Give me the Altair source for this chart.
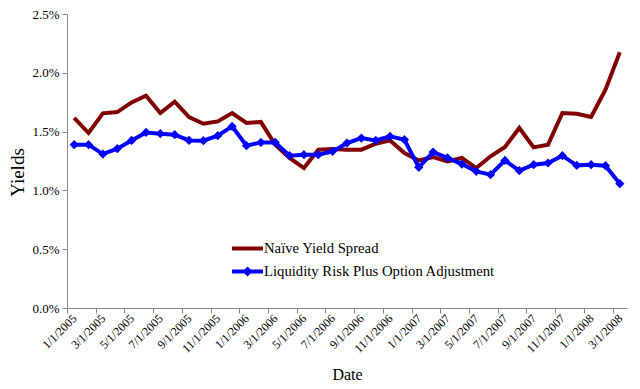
import altair as alt
import pandas as pd

dates = [
    "1/1/2005", "2/1/2005", "3/1/2005", "4/1/2005", "5/1/2005", "6/1/2005",
    "7/1/2005", "8/1/2005", "9/1/2005", "10/1/2005", "11/1/2005", "12/1/2005",
    "1/1/2006", "2/1/2006", "3/1/2006", "4/1/2006", "5/1/2006", "6/1/2006",
    "7/1/2006", "8/1/2006", "9/1/2006", "10/1/2006", "11/1/2006", "12/1/2006",
    "1/1/2007", "2/1/2007", "3/1/2007", "4/1/2007", "5/1/2007", "6/1/2007",
    "7/1/2007", "8/1/2007", "9/1/2007", "10/1/2007", "11/1/2007", "12/1/2007",
    "1/1/2008", "2/1/2008", "3/1/2008",
]

naive = [
    1.616, 1.488, 1.655, 1.666, 1.748, 1.805, 1.658, 1.754, 1.624, 1.567,
    1.587, 1.658, 1.573, 1.582, 1.389, 1.276, 1.190, 1.346, 1.352, 1.346,
    1.346, 1.397, 1.425, 1.318, 1.255, 1.284, 1.247, 1.276, 1.190, 1.290,
    1.369, 1.531, 1.366, 1.389, 1.658, 1.652, 1.624, 1.856, 2.174,
]

liquidity = [
    1.389, 1.389, 1.309, 1.355, 1.425, 1.493, 1.482, 1.474, 1.425, 1.423,
    1.465, 1.544, 1.380, 1.408, 1.408, 1.295, 1.304, 1.304, 1.332, 1.403,
    1.445, 1.425, 1.459, 1.431, 1.196, 1.326, 1.276, 1.224, 1.162, 1.134,
    1.255, 1.168, 1.219, 1.233, 1.295, 1.213, 1.219, 1.210, 1.057,
]

series_names = ["Naïve Yield Spread", "Liquidity Risk Plus Option Adjustment"]
series_colors = ["#800000", "#0000FF"]
y_ticks = [0.0, 0.5, 1.0, 1.5, 2.0, 2.5]

rows = []
for i, d in enumerate(dates):
    rows.append({"idx": i, "date": d, "series": series_names[0], "value": naive[i]})
    rows.append({"idx": i, "date": d, "series": series_names[1], "value": liquidity[i]})
df = pd.DataFrame(rows)

n = len(dates)
tick_positions = [k - 0.5 for k in range(0, n, 2)]
label_array = "[" + ",".join("'" + d + "'" for d in dates) + "]"
label_expr = label_array + "[round(datum.value + 0.5)]"

W, H = 560, 294
half_cat = W / n / 2.0

FONT = "Liberation Serif, Times New Roman, serif"
AXIS_GREY = "#868686"

color_scale = alt.Scale(domain=series_names, range=series_colors)

x_enc = alt.X(
    "idx:Q",
    scale=alt.Scale(domain=[-0.5, n - 0.5], nice=False, zero=False),
    axis=alt.Axis(
        values=tick_positions,
        labelExpr=label_expr,
        labelOffset=half_cat,
        labelAngle=315,
        labelAlign="right",
        labelBaseline="middle",
        labelPadding=3,
        labelOverlap=False,
        labelFlush=False,
        labelBound=False,
        labelFont=FONT,
        labelFontSize=12,
        labelColor="#000000",
        tickSize=5,
        tickColor=AXIS_GREY,
        domainColor=AXIS_GREY,
        grid=False,
        title="Date",
        titleFont=FONT,
        titleFontSize=16,
        titleFontWeight="normal",
        titleColor="#000000",
        titleX=W / 2,
        titleY=66,
        titleBaseline="middle",
        titleAlign="center",
    ),
)

y_enc = alt.Y(
    "value:Q",
    scale=alt.Scale(domain=[0, 2.5], nice=False),
    axis=alt.Axis(
        values=y_ticks,
        labelExpr="format(datum.value, '.1f') + '%'",
        labelFont=FONT,
        labelFontSize=13,
        labelColor="#000000",
        labelPadding=3,
        tickSize=5,
        tickColor=AXIS_GREY,
        domainColor=AXIS_GREY,
        grid=False,
        title="Yields",
        titleFont=FONT,
        titleFontSize=19,
        titleFontWeight="normal",
        titleColor="#000000",
        titleX=-50,
        titleY=158,
        titleAngle=270,
        titleBaseline="middle",
        titleAlign="center",
    ),
)

base = alt.Chart(df)

legend_shapes = [
    "M-1,-0.13H1V0.13H-1Z",
    "M-1,-0.13H1V0.13H-1Z M0,-0.33L0.33,0L0,0.33L-0.33,0Z",
]

legend_props = dict(
    title=None,
    orient="none",
    legendX=165,
    legendY=219,
    padding=0,
    symbolSize=961,
    symbolStrokeWidth=0,
    symbolOpacity=1,
    labelFont=FONT,
    labelFontSize=14.7,
    labelColor="#000000",
    labelOffset=1,
    rowPadding=-3,
    labelLimit=400,
)

# legend-carrying layer first so that its enabled legend wins the merge
legend_layer = base.mark_point(filled=True, size=0).encode(
    x=x_enc, y=y_enc,
    color=alt.Color("series:N", scale=color_scale, legend=alt.Legend(**legend_props)),
    shape=alt.Shape(
        "series:N",
        scale=alt.Scale(domain=series_names, range=legend_shapes),
        legend=alt.Legend(**legend_props),
    ),
)

red_line = base.transform_filter(
    alt.datum.series == series_names[0]
).mark_line(strokeWidth=4, strokeJoin="miter").encode(
    x=x_enc, y=y_enc,
    color=alt.Color("series:N", scale=color_scale, legend=None),
)

blue_line = base.transform_filter(
    alt.datum.series == series_names[1]
).mark_line(strokeWidth=4, strokeJoin="miter").encode(
    x=x_enc, y=y_enc,
    color=alt.Color("series:N", scale=color_scale, legend=None),
)

blue_points = base.transform_filter(
    alt.datum.series == series_names[1]
).mark_point(shape="diamond", filled=True, size=85, opacity=1).encode(
    x=x_enc, y=y_enc,
    color=alt.Color("series:N", scale=color_scale, legend=None),
)

chart = alt.layer(legend_layer, red_line, blue_line, blue_points).properties(
    width=W,
    height=H,
    autosize=alt.AutoSizeParams(type="none"),
    padding={"left": 59, "top": 6, "right": 5, "bottom": 75},
    background="#ffffff",
).configure_view(stroke=None)

chart.save("out.html", embed_options={"renderer": "svg", "actions": False})
